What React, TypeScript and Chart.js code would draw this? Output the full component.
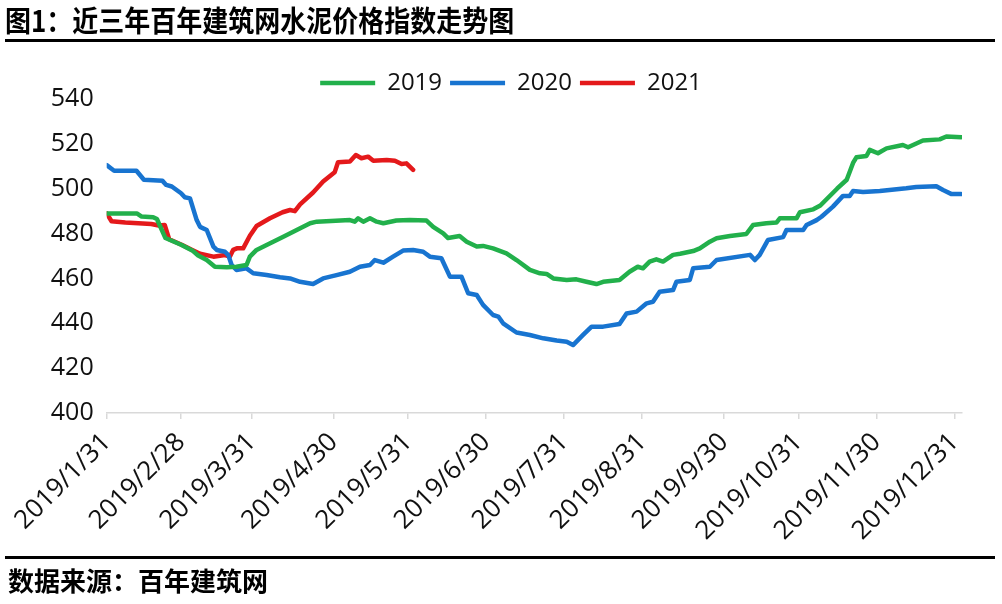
import React, { useEffect, useRef } from 'react';
import { Chart, registerables } from 'chart.js';

Chart.register(...registerables);

// Month-end tick labels and their trading-day index on the x axis
const tickLabels = [
  '2019/1/31', '2019/2/28', '2019/3/31', '2019/4/30', '2019/5/31', '2019/6/30',
  '2019/7/31', '2019/8/31', '2019/9/30', '2019/10/31', '2019/11/30', '2019/12/31',
];
const tickIndex = [0, 20, 39, 61, 81, 102, 123, 144, 166, 186, 207, 228];
const xMax = 230;

const seriesNames = ['2019', '2020', '2021'];

// [trading-day index, index value]
const s2019: [number, number][] = [
  [0, 489], [8.1, 489], [9.4, 487.6], [12.5, 487.3], [13.5, 486.5], [15.8, 478], [20, 475],
  [23, 472.5], [24.6, 470.2], [26.9, 468.2], [29.1, 465.2], [32.3, 465], [34.9, 465.2],
  [37.6, 466], [38.5, 469.7], [40.3, 472.7], [43, 474.9], [47.5, 478.6], [51.1, 481.6],
  [54.7, 484.6], [56.5, 485.3], [65.4, 486], [66.7, 485.3], [67.6, 486.8], [69, 485.3],
  [70.8, 486.8], [72.6, 485.3], [74.4, 484.6], [77.9, 485.8], [81.5, 486], [86, 485.8],
  [87.8, 483], [90.5, 480.1], [91.8, 478], [94.9, 478.9], [96.8, 476.4], [99.5, 474.2],
  [101.2, 474.5], [103.9, 473.4], [107.5, 471.2], [110.2, 468.2], [113.8, 463.8],
  [116.5, 462.3], [118.3, 462], [120.1, 460], [123.7, 459.3], [126.3, 459.6], [129, 458.5],
  [131.7, 457.5], [133.5, 458.5], [137.9, 459.3], [140.6, 463], [142.8, 465.2],
  [144.2, 464.5], [146, 467.5], [147.8, 468.5], [149.6, 467.5], [152.3, 470.5], [154.2, 471],
  [157.7, 472.2], [159.5, 473.4], [162.2, 476.4], [164, 477.9], [167.6, 478.9], [172, 479.8],
  [173.8, 483.8], [177.4, 484.6], [180.1, 484.9], [181, 486.8], [185.5, 486.8],
  [186.4, 489.5], [190, 490.8], [191.9, 492.5], [196.4, 500], [199, 504], [200.7, 511.5],
  [201.6, 514], [204.3, 514.6], [205.2, 517.3], [207.4, 515.8], [209.7, 518], [214.1, 519.5],
  [215.5, 518.5], [219.5, 521.5], [224, 522], [225.8, 523.3], [229.8, 523],
];

const s2020: [number, number][] = [
  [0, 510.5], [2, 508], [8, 508], [10, 504], [15, 503.5], [16, 501.7], [17.5, 501], [20, 498],
  [21, 496.2], [22.4, 495.7], [24.2, 486], [25.1, 483], [26.9, 481.6], [28.7, 474.2],
  [29.6, 472.7], [31.8, 471.9], [32.7, 470.4], [33.6, 466], [34.9, 463.8], [37.6, 464.5],
  [39.4, 462.3], [43, 461.5], [46.6, 460.5], [49.3, 460], [52, 458.5], [55.5, 457.5],
  [58.2, 460], [61.8, 461.5], [65.4, 463], [68.1, 465.2], [70.8, 466], [72.1, 468.2],
  [74.4, 467], [77, 469.7], [79.7, 472.4], [82.4, 472.7], [85.1, 471.9], [86.9, 469.7],
  [90, 469], [92.3, 460.8], [95.4, 460.8], [97.2, 453.4], [99.5, 452.6], [101.2, 448.2],
  [103.9, 443.7], [105.3, 443], [106.6, 440], [110.2, 435.9], [113.8, 434.8], [117.4, 433.3],
  [121, 432.3], [123.7, 431.8], [125.4, 430.3], [128.1, 434.8], [130.4, 438.5],
  [133.5, 438.5], [137.9, 439.7], [139.8, 444.4], [142.5, 445.2], [145.2, 448.9],
  [146.9, 449.6], [148.7, 454.1], [152.3, 454.8], [153.2, 458.5], [156.8, 459.3],
  [157.7, 464.5], [162.2, 465.2], [164, 468.2], [173, 470.5], [174.3, 468.2], [175.6, 470.5],
  [177.8, 477.1], [181.9, 478.4], [182.8, 481.6], [187.3, 481.6], [188.2, 483.8],
  [190.9, 486], [192.2, 487.5], [195.3, 492], [198, 496.8], [199.8, 496.8], [200.7, 499],
  [203.4, 498.5], [207.9, 499], [215, 500.2], [217.7, 500.8], [223.1, 501.1], [224.9, 499.4],
  [227.2, 497.6], [229.8, 497.6],
];

const s2021: [number, number][] = [
  [0, 489], [1.3, 485.5], [5, 484.9], [12, 484.3], [14, 483.6], [15.6, 483.8], [16.8, 477.5],
  [20.3, 474.9], [23, 472.7], [25.1, 471], [28.7, 469.7], [31.8, 470.4], [33.1, 469.7],
  [34, 472.7], [35, 473.4], [36.7, 473.4], [38.5, 479], [40.3, 483.4], [43.9, 486.8],
  [47.3, 489.5], [49.3, 490.5], [50.6, 490], [52, 493], [55.5, 498.3], [58.2, 503.2],
  [61.3, 507.3], [62.2, 511.8], [65.4, 512.1], [67, 515], [68.5, 513.6], [70.3, 514.3],
  [71.7, 512.5], [75.3, 512.8], [77.5, 512.5], [79.3, 511], [80.6, 511.3], [82.4, 508.4],
];

const yMin = 400;
const yMax = 540;
const yStep = 20;

const GREEN = '#22b04b';
const BLUE = '#1874d0';
const RED = '#e4191b';
const FONT = "'Open Sans', 'DejaVu Sans', sans-serif";
const CJK = "'Noto Sans CJK SC', sans-serif";

const toPts = (s: [number, number][]) => s.map(([x, y]) => ({ x, y }));

// nudges the (full-width) legend so its items are centred like the reference
const legendShift = {
  id: 'legendShift',
  afterLayout(chart: any) {
    if (chart.legend) chart.legend.left += 60;
  },
};

export default function App() {
  const ref = useRef<HTMLCanvasElement>(null);

  useEffect(() => {
    if (!ref.current) return;
    const colors = [GREEN, BLUE, RED];
    const sets = [s2019, s2020, s2021];
    const chart = new Chart(ref.current, {
      type: 'line',
      data: {
        datasets: sets.map((s, i) => ({
          label: seriesNames[i],
          data: toPts(s),
          borderColor: colors[i],
          backgroundColor: colors[i],
          borderWidth: 4.5,
          pointRadius: 0,
          tension: 0,
          borderJoinStyle: 'round' as const,
          borderCapStyle: 'round' as const,
        })),
      },
      plugins: [legendShift],
      options: {
        animation: false,
        responsive: false,
        maintainAspectRatio: false,
        layout: { padding: { top: 63, left: 0, right: 40, bottom: 0 } },
        plugins: {
          tooltip: { enabled: false },
          legend: {
            position: 'top',
            maxHeight: 36,
            labels: {
              usePointStyle: true,
              pointStyle: 'line',
              pointStyleWidth: 55,
              padding: 8,
              color: '#111',
              font: { family: FONT, size: 24 },
            },
          },
        },
        scales: {
          x: {
            type: 'linear',
            min: 0,
            max: xMax,
            afterBuildTicks: (s: any) => {
              s.ticks = tickIndex.map((v) => ({ value: v }));
            },
            afterFit: (s: any) => {
              s.height = 191;
            },
            ticks: {
              autoSkip: false,
              minRotation: 45,
              maxRotation: 45,
              padding: 8,
              color: '#111',
              font: { family: FONT, size: 26 },
              callback: (_v: any, i: number) => tickLabels[i],
            },
            grid: {
              drawOnChartArea: false,
              drawTicks: true,
              tickLength: 6,
              color: '#d9d9d9',
              lineWidth: 1.5,
            },
            border: { display: true, color: '#d9d9d9', width: 1.5 },
          },
          y: {
            min: yMin,
            max: yMax,
            afterFit: (s: any) => {
              s.width = 106.7;
            },
            ticks: {
              stepSize: yStep,
              padding: 13,
              color: '#111',
              font: { family: FONT, size: 25 },
            },
            grid: { display: false, drawTicks: false },
            border: { display: false },
          },
        },
      },
    });
    return () => chart.destroy();
  }, []);

  return (
    <div
      style={{
        position: 'fixed',
        left: 0,
        top: 0,
        width: 1002,
        height: 604,
        background: '#fff',
        overflow: 'hidden',
      }}
    >
      <canvas ref={ref} width={1002} height={604} style={{ position: 'absolute', left: 0, top: 0 }} />
      <div
        style={{
          position: 'absolute',
          left: 5,
          top: 6,
          fontFamily: CJK,
          fontWeight: 700,
          fontSize: 26,
          lineHeight: '28px',
          color: '#000',
          whiteSpace: 'nowrap',
          transform: 'scaleY(1.12)',
          transformOrigin: 'left center',
        }}
      >
        图1：近三年百年建筑网水泥价格指数走势图
      </div>
      <div style={{ position: 'absolute', left: 5, top: 39, width: 990, height: 3, background: '#000' }} />
      <div style={{ position: 'absolute', left: 5, top: 556, width: 990, height: 3, background: '#000' }} />
      <div
        style={{
          position: 'absolute',
          left: 8,
          top: 566,
          fontFamily: CJK,
          fontWeight: 700,
          fontSize: 26,
          lineHeight: '28px',
          color: '#000',
          whiteSpace: 'nowrap',
        }}
      >
        数据来源：百年建筑网
      </div>
    </div>
  );
}
